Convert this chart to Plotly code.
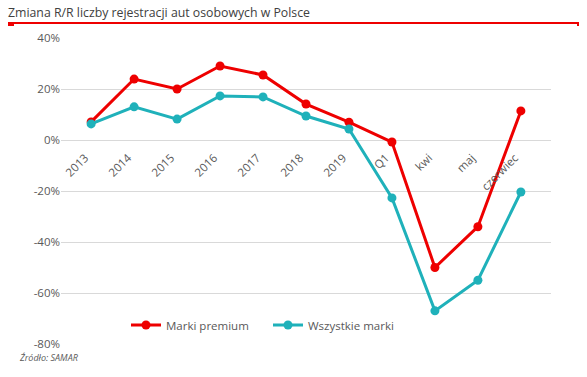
import plotly.graph_objects as go

categories = ["2013", "2014", "2015", "2016", "2017", "2018", "2019", "Q1", "kwi", "maj", "czerwiec"]
premium = [7.1, 23.9, 20.0, 29.0, 25.5, 14.1, 7.0, -0.8, -50.0, -34.0, 11.4]
wszystkie = [6.3, 13.0, 8.2, 17.3, 16.9, 9.4, 4.3, -22.7, -67.0, -55.0, -20.4]
y_ticks = [-80, -60, -40, -20, 0, 20, 40]
y_tick_labels = ["-80%", "-60%", "-40%", "-20%", "0%", "20%", "40%"]

RED = "#EE0000"
TEAL = "#1FB1BA"
FONT = "Open Sans"

fig = go.Figure()
fig.add_trace(go.Scatter(x=categories, y=premium, name="Marki premium", mode="lines+markers",
                         line=dict(color=RED, width=3), marker=dict(size=9, color=RED)))
fig.add_trace(go.Scatter(x=categories, y=wszystkie, name="Wszystkie marki", mode="lines+markers",
                         line=dict(color=TEAL, width=3), marker=dict(size=9, color=TEAL)))

L, R, T, B = 61, 36, 38, 33
W, H = 587, 377
pw, ph = W - L - R, H - T - B

def px(x):
    return (x - L) / pw

def py(y):
    return (H - B - y) / ph

fig.update_layout(
    width=W, height=H,
    margin=dict(l=L, r=R, t=T, b=B),
    paper_bgcolor="white", plot_bgcolor="white",
    font=dict(family=FONT, color="#595959", size=12),
    title=dict(text="Zmiana R/R liczby rejestracji aut osobowych w Polsce",
               xref="container", x=8 / W, xanchor="left",
               yref="container", y=1 - 13 / H, yanchor="middle",
               font=dict(family=FONT, size=12.3, color="#404040")),
    showlegend=True,
    legend=dict(orientation="h", x=px(126), xanchor="left", y=py(325), yanchor="middle",
                font=dict(family=FONT, size=11.5, color="#595959"),
                bgcolor="rgba(0,0,0,0)", tracegroupgap=0,
                entrywidth=97, entrywidthmode="pixels"),
    xaxis=dict(type="category", anchor="free", position=80 / 120,
               showgrid=False, showline=False, zeroline=False, ticks="",
               tickangle=-45, tickfont=dict(family=FONT, size=11.5, color="#595959"),
               ticklabelstandoff=8, ticklabelshift=-6),
    yaxis=dict(range=[-80, 40], tickvals=y_ticks, ticktext=y_tick_labels,
               showgrid=True, gridcolor="#D9D9D9", gridwidth=1,
               zeroline=False, showline=False, ticks="",
               tickfont=dict(family=FONT, size=11.5, color="#595959")),
)

# red title underline
fig.add_shape(type="line", xref="paper", yref="paper", x0=px(8), x1=px(579), y0=py(23), y1=py(23),
              line=dict(color=RED, width=2))
fig.add_shape(type="rect", xref="paper", yref="paper", x0=px(8), x1=px(14), y0=py(26), y1=py(22),
              line=dict(width=0), fillcolor=RED)
fig.add_shape(type="rect", xref="paper", yref="paper", x0=px(577), x1=px(579), y0=py(26), y1=py(22),
              line=dict(width=0), fillcolor=RED)

fig.add_annotation(text="Źródło: SAMAR", xref="paper", yref="paper", x=px(17), y=py(357),
                   xanchor="left", yanchor="middle", showarrow=False,
                   font=dict(family=FONT, size=9, color="#595959", style="italic"))

fig.write_html("out.html", config={"displayModeBar": False},
               post_script="document.body.style.margin='0';")
